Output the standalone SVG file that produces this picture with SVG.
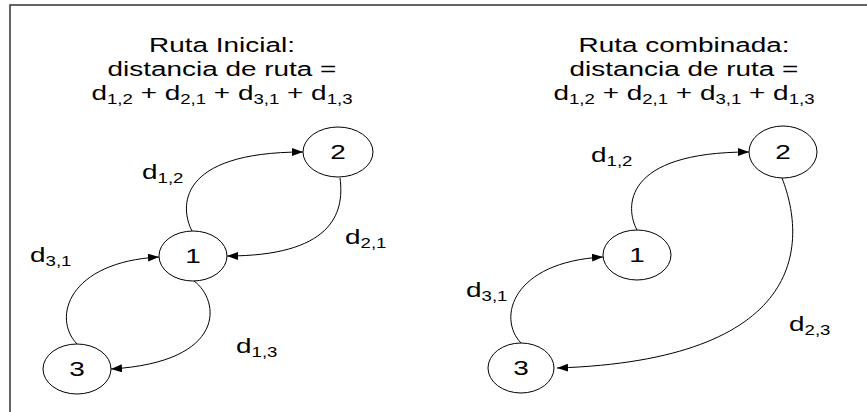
<svg xmlns="http://www.w3.org/2000/svg" width="867" height="412" viewBox="0 0 867 412">
<style>
.t{font-family:"Liberation Sans",Arial,sans-serif;font-size:21px;fill:#000}
.m{text-anchor:middle}
.s{font-size:14px}
.n{fill:#fff;stroke:#000;stroke-width:1}
.e{fill:none;stroke:#000;stroke-width:1;marker-end:url(#ah)}
</style>
<defs>
<marker id="ah" markerUnits="userSpaceOnUse" markerWidth="12" markerHeight="10" refX="11" refY="4" orient="auto">
<path d="M0,0 L11,4 L0,8 Z" fill="#000"/>
</marker>
</defs>
<rect width="867" height="412" fill="#fff"/>
<path d="M10,412 V5 H867" fill="none" stroke="#333" stroke-width="1.5"/>
<g id="title-left">
<text class="t m" transform="translate(222,52) scale(1.33,1)">Ruta Inicial:</text>
<text class="t m" transform="translate(222,76) scale(1.33,1)">distancia de ruta =</text>
<text class="t m" transform="translate(222,100) scale(1.33,1)">d<tspan class="s" dy="4">1,2</tspan><tspan dy="-4"> + d</tspan><tspan class="s" dy="4">2,1</tspan><tspan dy="-4"> + d</tspan><tspan class="s" dy="4">3,1</tspan><tspan dy="-4"> + d</tspan><tspan class="s" dy="4">1,3</tspan></text>
</g>
<g id="title-right">
<text class="t m" transform="translate(684,52) scale(1.33,1)">Ruta combinada:</text>
<text class="t m" transform="translate(684,76) scale(1.33,1)">distancia de ruta =</text>
<text class="t m" transform="translate(684,100) scale(1.33,1)">d<tspan class="s" dy="4">1,2</tspan><tspan dy="-4"> + d</tspan><tspan class="s" dy="4">2,1</tspan><tspan dy="-4"> + d</tspan><tspan class="s" dy="4">3,1</tspan><tspan dy="-4"> + d</tspan><tspan class="s" dy="4">1,3</tspan></text>
</g>
<g id="connectors">
<path class="e" d="M192,231 C180,208 176,152 303,152"/>
<path class="e" d="M340,178 C345,215 330,256 227,256"/>
<path class="e" d="M77,344 C52,318 68,262 159,257"/>
<path class="e" d="M194,281 C220,300 228,362 111,369"/>
<path class="e" d="M637,230 C625,208 622,152 749,152"/>
<path class="e" d="M782,178 C808,245 805,360 557,368"/>
<path class="e" d="M521,343 C497,318 512,262 603,257"/>
</g>
<g id="label-l-d12"><text class="t" transform="translate(142,179) scale(1.33,1)">d<tspan class="s" dy="4">1,2</tspan></text></g>
<g id="label-l-d21"><text class="t" transform="translate(345,244) scale(1.33,1)">d<tspan class="s" dy="4">2,1</tspan></text></g>
<g id="label-l-d31"><text class="t" transform="translate(30,262) scale(1.33,1)">d<tspan class="s" dy="4">3,1</tspan></text></g>
<g id="label-l-d13"><text class="t" transform="translate(236,353) scale(1.33,1)">d<tspan class="s" dy="4">1,3</tspan></text></g>
<g id="label-r-d12"><text class="t" transform="translate(591,162) scale(1.33,1)">d<tspan class="s" dy="4">1,2</tspan></text></g>
<g id="label-r-d31"><text class="t" transform="translate(466,297) scale(1.33,1)">d<tspan class="s" dy="4">3,1</tspan></text></g>
<g id="label-r-d23"><text class="t" transform="translate(789,331) scale(1.33,1)">d<tspan class="s" dy="4">2,3</tspan></text></g>
<g id="node-l2"><ellipse class="n" cx="338" cy="152" rx="35" ry="25"/><text class="t m" transform="translate(338,159) scale(1.33,1)">2</text></g>
<g id="node-l1"><ellipse class="n" cx="193" cy="256" rx="34" ry="25"/><text class="t m" transform="translate(193,263) scale(1.33,1)">1</text></g>
<g id="node-l3"><ellipse class="n" cx="77" cy="369" rx="34" ry="25"/><text class="t m" transform="translate(77,376) scale(1.33,1)">3</text></g>
<g id="node-r2"><ellipse class="n" cx="783" cy="152" rx="34" ry="26"/><text class="t m" transform="translate(783,159) scale(1.33,1)">2</text></g>
<g id="node-r1"><ellipse class="n" cx="637" cy="255" rx="34" ry="25"/><text class="t m" transform="translate(637,262) scale(1.33,1)">1</text></g>
<g id="node-r3"><ellipse class="n" cx="521" cy="368" rx="33" ry="25"/><text class="t m" transform="translate(521,375) scale(1.33,1)">3</text></g>
</svg>
